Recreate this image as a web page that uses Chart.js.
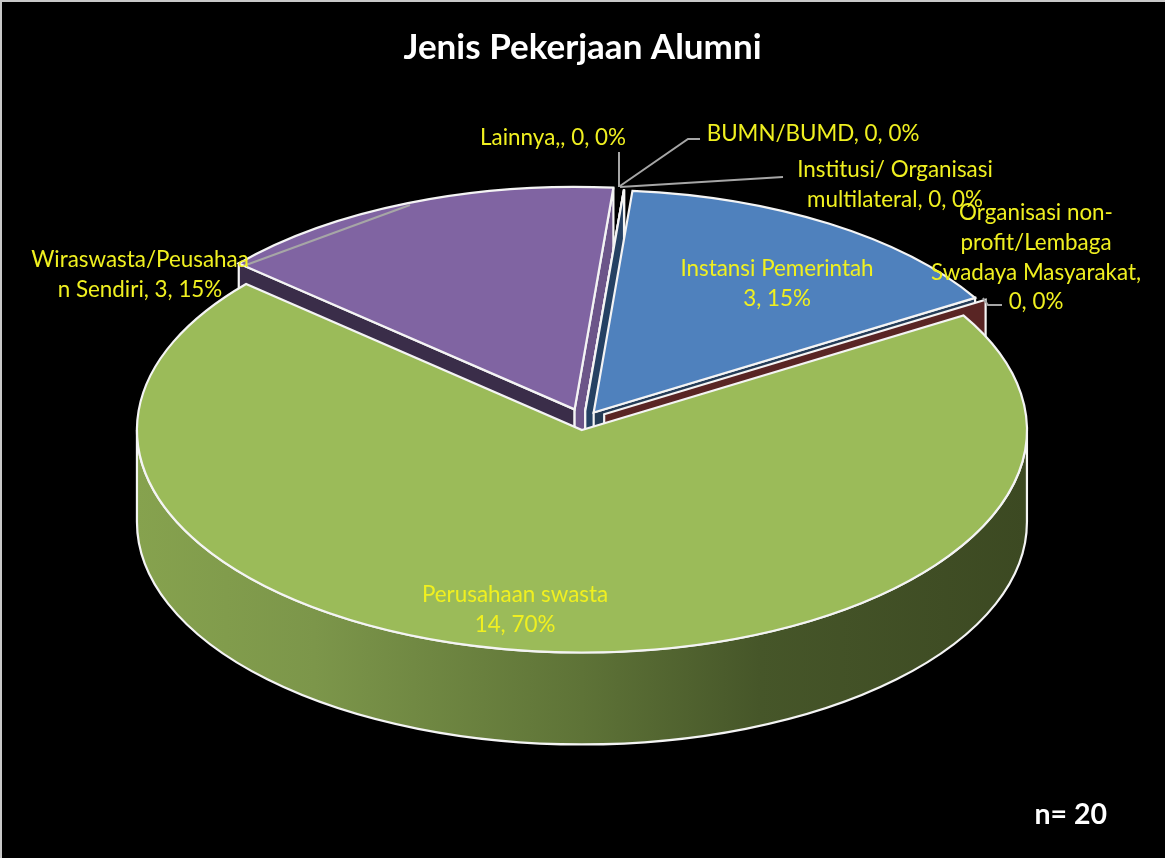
<!DOCTYPE html>
<html>
<head>
<meta charset="utf-8">
<title>Jenis Pekerjaan Alumni</title>
<script src="https://cdn.jsdelivr.net/npm/chart.js@4"></script>
<style>
  html, body { margin: 0; padding: 0; background: #000; overflow: hidden; }
  #frame { position: fixed; left: 0; top: 0; width: 1165px; height: 858px; box-sizing: border-box;
           border-top: 2px solid #c8c8c8; border-left: 2px solid #c8c8c8; pointer-events: none; }
  canvas { display: block; }
</style>
</head>
<body>
<canvas id="pie_chart" width="1165" height="858"></canvas>
<div id="frame"></div>
<script>
// data, in the order the slices run clockwise from the top
const categories = ['Instansi Pemerintah', 'Organisasi non-profit/Lembaga Swadaya Masyarakat', 'Perusahaan swasta',
    'Wiraswasta/Peusahaan Sendiri', 'Lainnya,', 'BUMN/BUMD', 'Institusi/ Organisasi multilateral'];
const values = [3, 0, 14, 3, 0, 0, 0];
const percents = [15, 0, 70, 15, 0, 0, 0];
const sliceColors = ['#4f81bd', '#c0504d', '#9bbb59', '#8064a2', '#4bacc6', '#f79646', '#2c4d75'];

const titleText = 'Jenis Pekerjaan Alumni';
const noteText = 'n= 20';
const labelLines = [
    ['Instansi Pemerintah', '3, 15%'],
    ['Organisasi non-', 'profit/Lembaga', 'Swadaya Masyarakat,', '0, 0%'],
    ['Perusahaan swasta', '14, 70%'],
    ['Wiraswasta/Peusahaa', 'n Sendiri, 3, 15%'],
    ['Lainnya,, 0, 0%'],
    ['BUMN/BUMD, 0, 0%'],
    ['Institusi/ Organisasi', 'multilateral, 0, 0%']
];

// layout of the tilted pie and the text around it
const CENTER_X = 583.6, CENTER_Y = 420.5, TILT = 0.5, DEPTH = 92;
const explode = [19, 24, 19, 24, 19, 19, 19];
const LABEL_FONT = '22.4px Lato, sans-serif';
const LABEL_COLOR = '#f0f020';
const LABEL_STEP = 29.7;
const labelPos = [[777, 269], [1036, 213], [515, 595], [140, 260], [553, 138], [813, 134], [895, 170]];
const leaders = [
    [[246, 265], [410, 205]],
    [[983, 298], [988, 305], [1002, 305]],
    [[619, 152], [619, 187]],
    [[620, 186], [688, 139], [700, 139]],
    [[620, 187], [783, 177]]
];

function shade(hex, k) {
    var n = parseInt(hex.slice(1), 16);
    return 'rgb(' + Math.round((n >> 16) * k) + ',' + Math.round(((n >> 8) & 255) * k) + ',' + Math.round((n & 255) * k) + ')';
}

// where the tip of an exploded slice lands on screen
function apexOf(arc, i) {
    var mid = (arc.startAngle + arc.endAngle) / 2;
    return {x: CENTER_X + Math.cos(mid) * explode[i], y: CENTER_Y + Math.sin(mid) * explode[i] * TILT};
}

function drawEdgeWall(ctx, arc, i, angle, normal) {
    var tip = apexOf(arc, i);
    var rx = tip.x + Math.cos(angle) * arc.outerRadius;
    var ry = tip.y + Math.sin(angle) * arc.outerRadius * TILT;
    // walls turned to the right catch more light
    var k = 0.45 + 0.4 * Math.max(0, (Math.cos(normal) - 0.5) / 0.5);
    ctx.beginPath();
    ctx.moveTo(tip.x, tip.y);
    ctx.lineTo(rx, ry);
    ctx.lineTo(rx, ry + DEPTH);
    ctx.lineTo(tip.x, tip.y + DEPTH);
    ctx.closePath();
    ctx.fillStyle = shade(sliceColors[i], k);
    ctx.fill();
    ctx.strokeStyle = '#f4f4f4';
    ctx.lineWidth = 2.2;
    ctx.stroke();
}

function drawRimWall(ctx, arc, i) {
    var tip = apexOf(arc, i);
    var r = arc.outerRadius;
    var from = Math.max(arc.startAngle, 0), to = Math.min(arc.endAngle, Math.PI);
    if (to <= from) return;
    var grad = ctx.createLinearGradient(tip.x - r, 0, tip.x + r, 0);
    grad.addColorStop(0, '#86a24e');
    grad.addColorStop(0.2, '#7c964a');
    grad.addColorStop(0.5, '#5e7337');
    grad.addColorStop(0.7, '#465629');
    grad.addColorStop(1, '#3c4922');
    ctx.beginPath();
    ctx.ellipse(tip.x, tip.y, r, r * TILT, 0, from, to);
    ctx.ellipse(tip.x, tip.y + DEPTH, r, r * TILT, 0, to, from, true);
    ctx.closePath();
    ctx.fillStyle = grad;
    ctx.fill();
    ctx.strokeStyle = '#f4f4f4';
    ctx.lineWidth = 2.2;
    ctx.stroke();
}

function drawTop(ctx, arc, i) {
    var tip = apexOf(arc, i);
    ctx.save();
    ctx.translate(tip.x, tip.y);
    ctx.scale(1, TILT);
    ctx.translate(-arc.x, -arc.y);
    arc.draw(ctx);
    ctx.restore();
    // outline after the squeeze so the line keeps an even width
    ctx.beginPath();
    ctx.moveTo(tip.x, tip.y);
    ctx.ellipse(tip.x, tip.y, arc.outerRadius, arc.outerRadius * TILT, 0, arc.startAngle, arc.endAngle);
    ctx.closePath();
    ctx.strokeStyle = '#f4f4f4';
    ctx.lineWidth = 2.2;
    ctx.stroke();
}

const pie3d = {
    id: 'pie3d',
    beforeDatasetsDraw(chart) {
        var ctx = chart.ctx;
        var arcs = chart.getDatasetMeta(0).data;
        // back to front: purple, the empty slices at the top, blue, the empty red one, green
        [3, 4, 5, 6, 0, 1, 2].forEach(function(i) {
            var arc = arcs[i];
            var start = arc.startAngle, end = arc.endAngle;
            if (-Math.cos(start) > 0 && end > start) drawEdgeWall(ctx, arc, i, start, start - Math.PI / 2);
            if (Math.cos(end) > 0) drawEdgeWall(ctx, arc, i, end, end + Math.PI / 2);
            drawRimWall(ctx, arc, i);
            if (values[i] > 0) drawTop(ctx, arc, i);
        });
        return false;
    },
    afterDraw(chart) {
        var ctx = chart.ctx;
        ctx.save();
        ctx.strokeStyle = '#a6a6a6';
        ctx.lineWidth = 2;
        leaders.forEach(function(line) {
            ctx.beginPath();
            line.forEach(function(p, i) {
                if (i === 0) ctx.moveTo(p[0], p[1]); else ctx.lineTo(p[0], p[1]);
            });
            ctx.stroke();
        });
        ctx.font = LABEL_FONT;
        ctx.fillStyle = LABEL_COLOR;
        ctx.textAlign = 'center';
        ctx.textBaseline = 'middle';
        labelLines.forEach(function(lines, i) {
            lines.forEach(function(text, j) {
                ctx.fillText(text, labelPos[i][0], labelPos[i][1] + j * LABEL_STEP);
            });
        });
        ctx.font = 'bold 28.5px Lato, sans-serif';
        ctx.fillStyle = '#ffffff';
        ctx.textAlign = 'right';
        ctx.fillText(noteText, 1107, 815);
        ctx.restore();
    }
};

var pie_chart = new Chart(document.getElementById('pie_chart').getContext('2d'), {
    type: 'pie',
    data: {
        labels: categories,
        datasets: [{
            data: values,
            backgroundColor: sliceColors,
            borderWidth: 0,
            radius: 445
        }]
    },
    options: {
        responsive: false,
        animation: false,
        rotation: 5,
        layout: {padding: 0},
        plugins: {
            legend: {display: false},
            tooltip: {enabled: false},
            title: {
                display: true,
                text: titleText,
                color: '#ffffff',
                font: {family: 'Lato, sans-serif', size: 35, weight: 'bold'},
                padding: {top: 27, bottom: 10}
            }
        }
    },
    plugins: [pie3d]
});
</script>
</body>
</html>
